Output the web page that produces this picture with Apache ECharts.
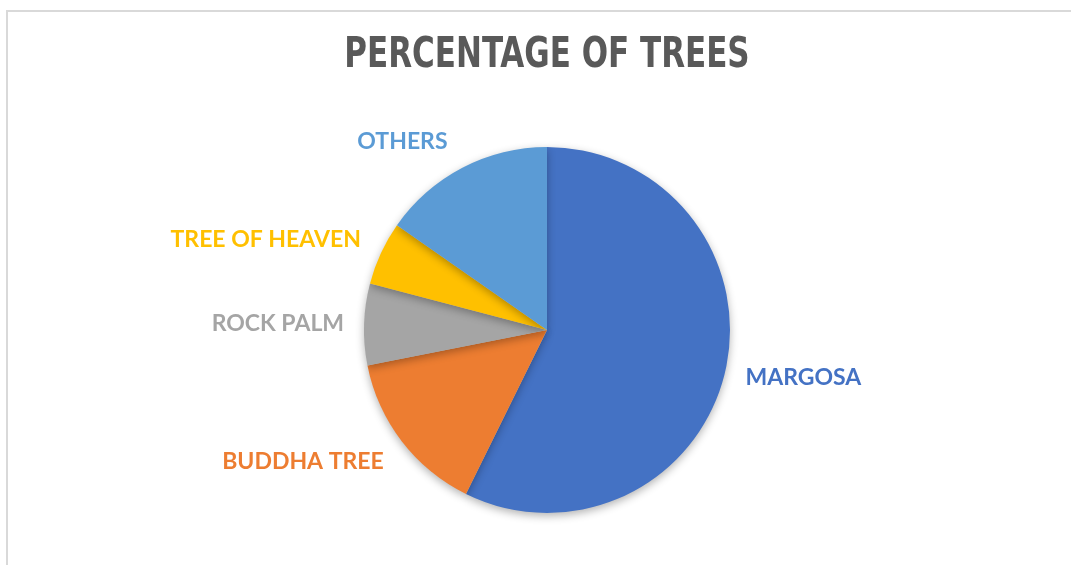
<!DOCTYPE html>
<html>
<head>
<meta charset="utf-8">
<title>Percentage of trees</title>
<script src="https://cdn.jsdelivr.net/npm/echarts@6/dist/echarts.min.js"></script>
<style>
  html, body { margin: 0; padding: 0; background: #ffffff; }
  #chart { width: 1071px; height: 565px; }
</style>
</head>
<body>
<div id="chart"></div>
<script>
// values (percent)
const categories = ['MARGOSA', 'BUDDHA TREE', 'ROCK PALM', 'TREE OF HEAVEN', 'OTHERS'];
const shares = [57.3, 14.6, 7.2, 5.6, 15.3];
const colors = ['#4472C4', '#ED7D31', '#A5A5A5', '#FFC000', '#5B9BD5'];
// label nudges so names sit where the original puts them: [length, length2]
const labelNudge = [[28, -12], [34, -14], [22, -7], [32, -14], [30, -4]];

const myChart = echarts.init(document.getElementById('chart'));

const pieData = categories.map((name, i) => ({
  name: name,
  value: shares[i],
  itemStyle: { color: colors[i] },
  label: { color: colors[i] },
  labelLine: { length: labelNudge[i][0], length2: labelNudge[i][1] }
}));

myChart.setOption({
  animation: false,
  graphic: [
    // chart area frame
    {
      type: 'rect',
      shape: { x: 7, y: 11, width: 1100, height: 600 },
      style: { fill: 'none', stroke: '#d9d9d9', lineWidth: 2 },
      silent: true
    },
    // title, squeezed a bit to get the narrow look of the original
    {
      type: 'text',
      x: 547,
      y: 56,
      scaleX: 0.82,
      silent: true,
      style: {
        text: 'PERCENTAGE OF TREES',
        fill: '#595959',
        font: 'bold 42px "DejaVu Sans Condensed", sans-serif',
        align: 'center',
        verticalAlign: 'middle'
      }
    }
  ],
  series: [
    {
      type: 'pie',
      center: [547, 330],
      radius: 183,
      startAngle: 90,
      clockwise: true,
      avoidLabelOverlap: false,
      itemStyle: {
        shadowBlur: 8,
        shadowOffsetY: 3,
        shadowColor: 'rgba(0,0,0,0.3)'
      },
      label: {
        show: true,
        position: 'outside',
        formatter: '{b}',
        fontFamily: 'Lato, sans-serif',
        fontWeight: 'bold',
        fontSize: 23,
        distanceToLabelLine: 5
      },
      labelLine: { show: false },
      emphasis: { disabled: true },
      data: pieData
    }
  ]
});

window.onresize = function () {
  myChart.resize();
};
</script>
</body>
</html>
